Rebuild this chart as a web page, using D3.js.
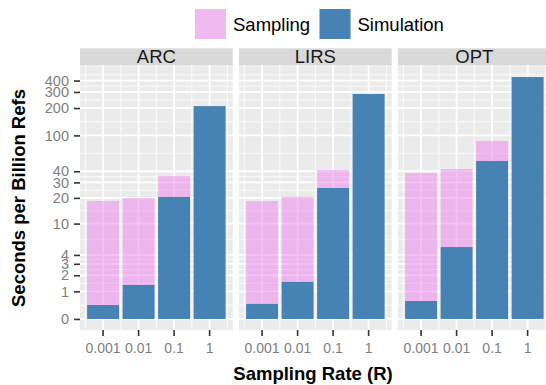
<!DOCTYPE html>
<html>
<head>
<meta charset="utf-8">
<script src="https://cdn.jsdelivr.net/npm/d3@7"></script>
<style>
  body { margin: 0; background: #fff; }
  svg { display: block; font-family: "Liberation Sans", Arial, Helvetica, sans-serif; }
</style>
</head>
<body>
<svg id="chart"></svg>
<script>
const facets = ['ARC', 'LIRS', 'OPT'];
const rates = ['0.001', '0.01', '0.1', '1'];
// seconds per billion refs, one row per facet
const simulation = [
  [0.42, 1.35, 20.5, 210],
  [0.46, 1.54, 25.9, 285],
  [0.57, 5.1, 52.1, 437]
];
const sampling = [
  [18.0, 18.5, 14.9, 0],
  [17.9, 19.0, 15.4, 0],
  [37.7, 37.3, 34.7, 0]
];
const yTicks = [0, 1, 2, 3, 4, 10, 20, 30, 40, 100, 200, 300, 400];

const width = 546, height = 385;
const panelLeft = 80, panelW = 152.7, panelGap = 6.3;
const panelTop = 65, panelBottom = 330, stripH = 16.7;

const pink = '#EE82EE', blue = '#4682B4';

const svg = d3.select('#chart')
  .attr('width', width).attr('height', height)
  .attr('viewBox', `0,0,${width},${height}`);

// log10(x + 1) style axis
const y = d3.scaleSymlog().constant(1)
  .domain([-0.32, 592])
  .range([panelBottom, panelTop]);

const x = d3.scaleBand().domain(rates)
  .range([0, panelW]).paddingInner(0.1).paddingOuter(0.2);

const t = v => Math.log10(v + 1);
const tInv = v => Math.pow(10, v) - 1;
const yMinor = d3.pairs(yTicks).map(([a, b]) => tInv((t(a) + t(b)) / 2));
yMinor.push(tInv(t(400) + (t(400) - t(300)) / 2));

const xCenters = rates.map(r => x(r) + x.bandwidth() / 2);
const xMinor = [xCenters[0] - x.step() / 2, ...d3.pairs(xCenters).map(([a, b]) => (a + b) / 2), xCenters[3] + x.step() / 2];

facets.forEach((name, fi) => {
  const g = svg.append('g')
    .attr('transform', `translate(${panelLeft + fi * (panelW + panelGap)},0)`);

  g.append('rect')
    .attr('y', panelTop).attr('width', panelW).attr('height', panelBottom - panelTop)
    .attr('fill', '#EBEBEB');

  g.append('g').attr('stroke', '#fff').attr('stroke-width', 0.8)
    .selectAll('line.mh')
    .data(yMinor.filter(v => y(v) > panelTop && y(v) < panelBottom))
    .join('line')
      .attr('x1', 0).attr('x2', panelW)
      .attr('y1', d => y(d)).attr('y2', d => y(d));

  g.append('g').attr('stroke', '#fff').attr('stroke-width', 0.8)
    .selectAll('line')
    .data(xMinor)
    .join('line')
      .attr('x1', d => d).attr('x2', d => d)
      .attr('y1', panelTop).attr('y2', panelBottom);

  g.append('g').attr('stroke', '#fff').attr('stroke-width', 1.8)
    .selectAll('line')
    .data(yTicks)
    .join('line')
      .attr('x1', 0).attr('x2', panelW)
      .attr('y1', d => y(d)).attr('y2', d => y(d));

  g.append('g').attr('stroke', '#fff').attr('stroke-width', 1.8)
    .selectAll('line')
    .data(xCenters)
    .join('line')
      .attr('x1', d => d).attr('x2', d => d)
      .attr('y1', panelTop).attr('y2', panelBottom);

  const rows = rates.map((r, i) => ({rate: r, sim: simulation[fi][i], samp: sampling[fi][i]}));

  g.append('g').selectAll('rect')
    .data(rows)
    .join('rect')
      .attr('x', d => x(d.rate))
      .attr('width', x.bandwidth())
      .attr('y', d => y(d.sim + d.samp))
      .attr('height', d => y(d.sim) - y(d.sim + d.samp))
      .attr('fill', pink).attr('fill-opacity', 0.5);

  g.append('g').selectAll('rect')
    .data(rows)
    .join('rect')
      .attr('x', d => x(d.rate))
      .attr('width', x.bandwidth())
      .attr('y', d => y(d.sim))
      .attr('height', d => y(0) - y(d.sim))
      .attr('fill', blue);

  // strip
  g.append('rect')
    .attr('y', panelTop - stripH).attr('width', panelW).attr('height', stripH)
    .attr('fill', '#D9D9D9');
  g.append('text')
    .attr('x', panelW / 2).attr('y', panelTop - 2.3)
    .attr('text-anchor', 'middle').attr('font-size', 18.5).attr('fill', '#1A1A1A')
    .text(name);

  // x axis
  const xa = g.append('g').attr('transform', `translate(0,${panelBottom})`)
    .call(d3.axisBottom(x).tickSize(6).tickPadding(7));
  xa.select('.domain').remove();
  xa.selectAll('line').attr('stroke', '#333').attr('stroke-width', 1.6);
  xa.selectAll('text').attr('font-size', 14).attr('fill', '#7F7F7F')
    .attr('font-family', '"Liberation Sans", Arial, sans-serif');
});

// y axis
const ya = svg.append('g').attr('transform', `translate(${panelLeft},0)`)
  .call(d3.axisLeft(y).tickValues(yTicks).tickFormat(d3.format('d')).tickSize(6).tickPadding(5));
ya.select('.domain').remove();
ya.selectAll('line').attr('stroke', '#333').attr('stroke-width', 1.6);
ya.selectAll('text').attr('font-size', 14.5).attr('fill', '#7F7F7F')
  .attr('font-family', '"Liberation Sans", Arial, sans-serif');

// axis titles
svg.append('text')
  .attr('x', 313).attr('y', 380)
  .attr('text-anchor', 'middle').attr('font-size', 18.5).attr('font-weight', 'bold')
  .text('Sampling Rate (R)');
svg.append('text')
  .attr('transform', 'translate(25,198) rotate(-90)')
  .attr('text-anchor', 'middle').attr('font-size', 18.5).attr('font-weight', 'bold')
  .text('Seconds per Billion Refs');

// legend
const legend = [{label: 'Sampling', color: pink, op: 0.5, x: 195}, {label: 'Simulation', color: blue, op: 1, x: 319.5}];
const lg = svg.append('g').selectAll('g').data(legend).join('g')
  .attr('transform', d => `translate(${d.x},9)`);
lg.append('rect').attr('width', 31).attr('height', 30).attr('fill', '#F2F2F2');
lg.append('rect').attr('width', 31).attr('height', 30)
  .attr('fill', d => d.color).attr('fill-opacity', d => d.op);
lg.append('text').attr('x', 38).attr('y', 21.5).attr('font-size', 18.5)
  .text(d => d.label);
</script>
</body>
</html>
